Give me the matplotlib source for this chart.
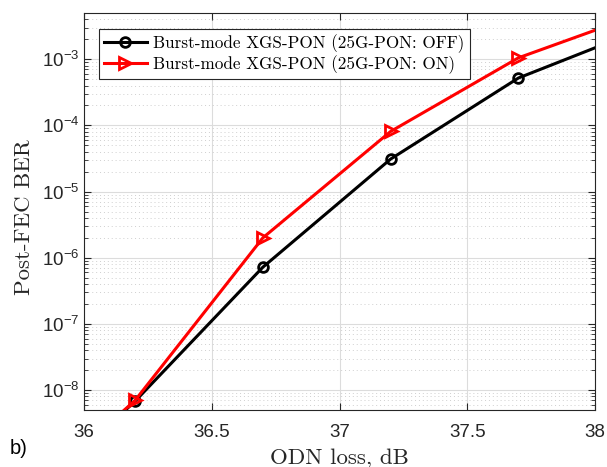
import numpy as np
import matplotlib
matplotlib.use("Agg")
import matplotlib.pyplot as plt
from matplotlib.ticker import LogLocator, NullFormatter

# data (ODN loss in dB, post-FEC BER)
odn_loss = [35.7, 36.2, 36.7, 37.2, 37.7, 38.2]
ber_off = [1.1e-10, 6.8e-9, 7.2e-7, 3.1e-5, 5.2e-4, 3.0e-3]
ber_on = [1.3e-10, 7.0e-9, 2.0e-6, 8.1e-5, 1.05e-3, 5.2e-3]
labels = ["Burst-mode XGS-PON (25G-PON: OFF)", "Burst-mode XGS-PON (25G-PON: ON)"]
xticks = [36, 36.5, 37, 37.5, 38]
xtick_labels = ['36', '36.5', '37', '37.5', '38']

plt.rcParams['font.family'] = ['Liberation Sans', 'DejaVu Sans']
serif = 'cmr10'

fig = plt.figure(figsize=(6.07, 4.67), dpi=100, facecolor="white")
ax = fig.add_axes([84/607, 1-410/467, 511/607, 397/467])

ax.plot(odn_loss, ber_off, 'o-', color='k', linewidth=2.2, markersize=7,
        markerfacecolor='none', markeredgewidth=2, label=labels[0], zorder=3)
ax.plot(odn_loss, ber_on, '>-', color='r', linewidth=2.2, markersize=8,
        markerfacecolor='none', markeredgewidth=2, label=labels[1], zorder=4)

ax.set_yscale('log')
ax.set_xlim(36, 38)
ax.set_ylim(5e-9, 5e-3)
ax.set_xticks(xticks)
ax.set_xticklabels(xtick_labels)
ax.yaxis.set_major_locator(LogLocator(base=10, numticks=20))
ax.yaxis.set_minor_locator(LogLocator(base=10, subs=np.arange(2, 10), numticks=20))
ax.yaxis.set_minor_formatter(NullFormatter())

ax.grid(True, which='major', color='#dcdcdc', linewidth=0.8, linestyle='-')
ax.grid(True, which='minor', axis='y', color='#cfcfcf', linewidth=0.7, linestyle=(0, (1, 3)))
ax.set_axisbelow(True)

ax.tick_params(which='both', direction='in', top=True, right=True, labelsize=13.5, colors='#262626')
ax.tick_params(which='major', length=5)
ax.tick_params(which='minor', length=3)
ax.tick_params(axis='x', pad=10)
for s in ax.spines.values():
    s.set_color('#262626')
    s.set_linewidth(0.8)

ax.set_xlabel('ODN loss, dB', fontfamily=serif, fontsize=16.5, labelpad=5, color='#262626')
ax.set_ylabel('Post-FEC BER', fontfamily=serif, fontsize=16.5, color='#262626')
ax.yaxis.set_label_coords(-0.098, 0.485)

leg = ax.legend(loc='upper left', bbox_to_anchor=(0.029, 0.96), prop={'family': serif, 'size': 12.3},
                fancybox=False, edgecolor='#262626', framealpha=1, handlelength=2.5,
                borderpad=0.3, labelspacing=0.15, handletextpad=0.4, borderaxespad=0)
leg.get_frame().set_linewidth(0.8)

fig.text(10/607, 1-449/467, 'b)', fontsize=14.5, va='center', ha='left')

fig.savefig('out.png', dpi=100)
